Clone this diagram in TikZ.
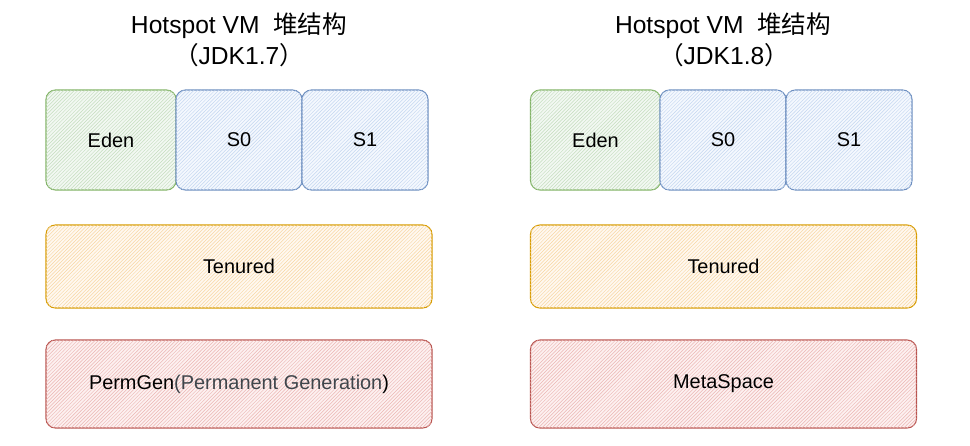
\documentclass[tikz,border=0pt]{standalone}
\usepackage{fontspec}
\setmainfont{Liberation Sans}
\newfontfamily\cjk{Noto Sans CJK SC}
\usetikzlibrary{patterns, positioning}

\definecolor{edenline}{HTML}{82B366}
\definecolor{edenfill}{HTML}{D5E8D4}
\definecolor{survline}{HTML}{6C8EBF}
\definecolor{survfill}{HTML}{DAE8FC}
\definecolor{oldline}{HTML}{D79B00}
\definecolor{oldfill}{HTML}{FFE6CC}
\definecolor{permline}{HTML}{B85450}
\definecolor{permfill}{HTML}{F8CECC}
\definecolor{subtext}{HTML}{3F454B}

\tikzset{
  region/.style={draw, line width=0.9pt, rounded corners=8pt, inner sep=0pt,
    font=\fontsize{17}{19}\selectfont},
  hatched/.style 2 args={region, draw=#1, fill=#2!30,
    postaction={pattern=north east lines, pattern color=#2!80!#1}},
  edenbox/.style={hatched={edenline}{edenfill}, minimum width=3.9cm, minimum height=3cm},
  survbox/.style={hatched={survline}{survfill}, minimum width=3.78cm, minimum height=3cm},
  oldbox/.style={hatched={oldline}{oldfill}, minimum width=11.58cm, minimum height=2.49cm},
  permbox/.style={hatched={permline}{permfill}, minimum width=11.58cm, minimum height=2.64cm},
  heading/.style={font=\fontsize{21}{24}\selectfont, inner sep=0pt}
}

\begin{document}
\begin{tikzpicture}[x=0.03cm, y=-0.03cm]
  \useasboundingbox (0,0) rectangle (970,446);

  % JDK 1.7
  \node[heading] (title7) at (239,26) {Hotspot VM\ \ {\cjk 堆结构}};
  \node[heading] (ver7) at (239,55) {{\cjk （}JDK1.7{\cjk ）}};
  \node[edenbox] (eden7) at (111,140) {Eden};
  \node[survbox] (szero7) at (239,140) {S0};
  \node[survbox] (sone7) at (365,140) {S1};
  \node[oldbox] (tenured7) at (239,266.5) {Tenured};
  \node[permbox] (perm7) at (239,384) {PermGen\textcolor{subtext}{(Permanent Generation})};

  % JDK 1.8
  \node[heading] (title8) at (723,26) {Hotspot VM\ \ {\cjk 堆结构}};
  \node[heading] (ver8) at (724,55) {{\cjk （}JDK1.8{\cjk ）}};
  \node[edenbox] (eden8) at (595.5,140) {Eden};
  \node[survbox] (szero8) at (723,140) {S0};
  \node[survbox] (sone8) at (849,140) {S1};
  \node[oldbox] (tenured8) at (723.5,266.5) {Tenured};
  \node[permbox] (meta8) at (723.5,384) {MetaSpace};
\end{tikzpicture}
\end{document}
